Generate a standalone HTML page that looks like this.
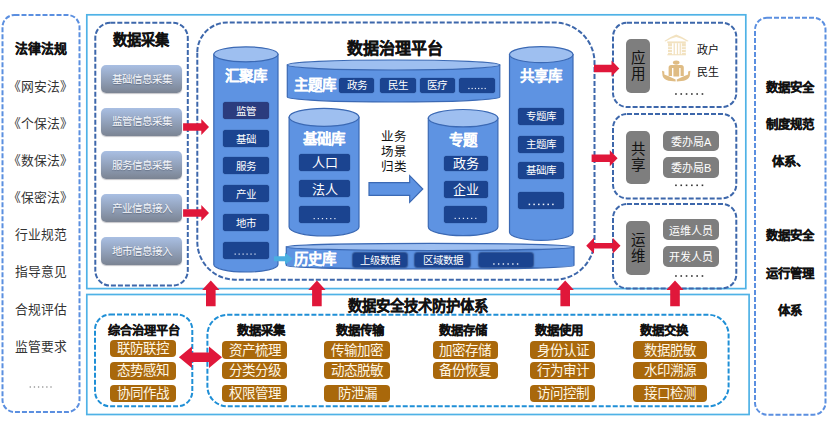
<!DOCTYPE html>
<html lang="zh-CN"><head><meta charset="utf-8">
<style>
html,body{margin:0;padding:0;background:#fff;}
body{width:830px;height:423px;position:relative;overflow:hidden;font-family:"Liberation Sans",sans-serif;}
svg{position:absolute;left:0;top:0;}
.t{position:absolute;white-space:nowrap;line-height:1;text-align:center;}
.gb{position:absolute;border-radius:5px;background:linear-gradient(#a9bfe3,#7b8493);color:#f6f8fc;font-size:10.5px;display:flex;align-items:center;justify-content:center;text-shadow:0 0.5px 1px rgba(70,80,100,.55);box-sizing:border-box;padding-bottom:1.5px;box-shadow:0 1px 1px rgba(90,90,100,.35);}
.nb{position:absolute;border-radius:3px;background:#1b4490;color:#fff;font-size:10.5px;display:flex;align-items:center;justify-content:center;box-shadow:0 0 1px #0f2a60;box-sizing:border-box;padding-bottom:1px;}
.ob{position:absolute;border-radius:4px;background:#a9680b;color:#fff7e6;font-size:13.5px;display:flex;align-items:center;justify-content:center;box-sizing:border-box;padding-bottom:3px;}
.gp{position:absolute;border-radius:5px;background:#7e7e7e;color:#111;font-size:14.5px;display:flex;flex-direction:column;align-items:center;justify-content:center;line-height:16px;}
.gs{position:absolute;border-radius:5px;background:#7e7e7e;color:#fff;font-size:11px;display:flex;align-items:center;justify-content:center;}
</style></head><body>
<svg width="830" height="423" viewBox="0 0 830 423">
<rect x="2.5" y="15" width="77" height="397" rx="12" fill="none" stroke="#5b8fe0" stroke-width="2" stroke-dasharray="5 2"/>
<rect x="755" y="17.7" width="70.5" height="397" rx="12" fill="none" stroke="#5b8fe0" stroke-width="2" stroke-dasharray="5 2"/>
<rect x="86.8" y="14.8" width="659" height="273.8" fill="none" stroke="#4fb2e6" stroke-width="1.7"/>
<rect x="86.8" y="294.5" width="662.3" height="120" fill="none" stroke="#4fb2e6" stroke-width="1.7"/>
<rect x="95.3" y="22.8" width="92.5" height="262.8" rx="15" fill="none" stroke="#3d67ab" stroke-width="2" stroke-dasharray="5 2"/>
<path d="M197.3 52 A30 30 0 0 1 227.3 22.5 L554 22.5 A40.5 40 0 0 1 594.5 62.5 L594.5 239.7 A40 40 0 0 1 554.5 279.7 L235 279.7 A38 38 0 0 1 197.3 241.7 Z" fill="none" stroke="#3d67ab" stroke-width="2" stroke-dasharray="5 2"/>
<rect x="613" y="22.7" width="123.3" height="84.3" rx="14" fill="none" stroke="#3d67ab" stroke-width="2" stroke-dasharray="5 2"/>
<rect x="613" y="114" width="123.3" height="84.4" rx="14" fill="none" stroke="#3d67ab" stroke-width="2" stroke-dasharray="5 2"/>
<rect x="613" y="204" width="123.3" height="84.4" rx="14" fill="none" stroke="#3d67ab" stroke-width="2" stroke-dasharray="5 2"/>
<rect x="95" y="314.6" width="97.3" height="91.7" rx="15" fill="none" stroke="#1f8fd6" stroke-width="2" stroke-dasharray="5 2"/>
<rect x="207.4" y="314.8" width="521.2" height="91.5" rx="20" fill="none" stroke="#1f8fd6" stroke-width="2" stroke-dasharray="5 2"/>
<path d="M213.8 54.3 L213.8 264.5 A32.099999999999994 7.5 0 0 0 278 264.5 L278 54.3 Z" fill="#5e93e2" stroke="#3b69b4" stroke-width="1.2"/>
<ellipse cx="245.9" cy="54.3" rx="32.099999999999994" ry="7.5" fill="#9ebff0" stroke="#3b69b4" stroke-width="1.2"/>
<path d="M287.3 65 L287.3 97 A106.25 5 0 0 0 499.8 97 L499.8 65 Z" fill="#5e93e2" stroke="#3b69b4" stroke-width="1.2"/>
<ellipse cx="393.55" cy="65" rx="106.25" ry="5" fill="#9ebff0" stroke="#3b69b4" stroke-width="1.2"/>
<path d="M289.1 117.3 L289.1 227 A34.94999999999999 9 0 0 0 359 227 L359 117.3 Z" fill="#5e93e2" stroke="#3b69b4" stroke-width="1.2"/>
<ellipse cx="324.05" cy="117.3" rx="34.94999999999999" ry="9" fill="#9ebff0" stroke="#3b69b4" stroke-width="1.2"/>
<path d="M428.3 118.2 L428.3 227.0 A34.79999999999998 8.7 0 0 0 497.9 227.0 L497.9 118.2 Z" fill="#5e93e2" stroke="#3b69b4" stroke-width="1.2"/>
<ellipse cx="463.1" cy="118.2" rx="34.79999999999998" ry="8.7" fill="#9ebff0" stroke="#3b69b4" stroke-width="1.2"/>
<path d="M509.5 54.6 L509.5 232.3 A31.75 8 0 0 0 573 232.3 L573 54.6 Z" fill="#5e93e2" stroke="#3b69b4" stroke-width="1.2"/>
<ellipse cx="541.25" cy="54.6" rx="31.75" ry="8" fill="#9ebff0" stroke="#3b69b4" stroke-width="1.2"/>
<path d="M286.3 246.9 L286.3 265.4 A143.85 3.6 0 0 0 574 265.4 L574 246.9 Z" fill="#5e93e2" stroke="#3b69b4" stroke-width="1.2"/>
<ellipse cx="430.15" cy="246.9" rx="143.85" ry="3.6" fill="#9ebff0" stroke="#3b69b4" stroke-width="1.2"/>
<path d="M369 182.7 L409.7 182.7 L409.7 175.6 L422.8 189 L409.7 202.4 L409.7 195.3 L369 195.3 Z" fill="#5e93e2" stroke="#3b69b4" stroke-width="1.2"/>
<path d="M274 256.3 L285 256.3 L285 252.8 L292.8 258.8 L285 264.8 L285 261.3 L274 261.3 Z" fill="#4aaee0"/>
<path d="M183.1 123.25 L201.3 123.25 L201.3 119.1 L209 127 L201.3 134.9 L201.3 130.75 L183.1 130.75 Z" fill="#e0173a"/>
<path d="M183.1 209.25 L201.3 209.25 L201.3 205.1 L209 213 L201.3 220.9 L201.3 216.75 L183.1 216.75 Z" fill="#e0173a"/>
<path d="M594 64.8 L611.5 64.8 L611.5 60.5 L619.3 68.5 L611.5 76.5 L611.5 72.2 L594 72.2 Z" fill="#e0173a"/>
<path d="M591.6 154.5 L609.8 154.5 L609.8 150.2 L617.6 158.2 L609.8 166.2 L609.8 161.89999999999998 L591.6 161.89999999999998 Z" fill="#e0173a"/>
<path d="M586.2 245.8 L594.0 237.8 L594.0 243.0 L612.7 243.0 L612.7 237.8 L620.5 245.8 L612.7 253.8 L612.7 248.60000000000002 L594.0 248.60000000000002 L594.0 253.8 Z" fill="#e0173a"/>
<path d="M178.9 357.2 L191.9 346.4 L191.9 352.5 L209 352.5 L209 346.4 L222 357.2 L209 368.0 L209 361.9 L191.9 361.9 L191.9 368.0 Z" fill="#e0173a"/>
<path d="M210.8 280.6 L219.5 290 L215.60000000000002 290 L215.60000000000002 306.3 L206.0 306.3 L206.0 290 L202.10000000000002 290 Z" fill="#e0173a"/>
<path d="M316.9 280.6 L325.59999999999997 290 L321.7 290 L321.7 306.3 L312.09999999999997 306.3 L312.09999999999997 290 L308.2 290 Z" fill="#e0173a"/>
<path d="M565.2 280.6 L573.9000000000001 290 L570.0 290 L570.0 306.3 L560.4000000000001 306.3 L560.4000000000001 290 L556.5 290 Z" fill="#e0173a"/>
<path d="M675 280.6 L683.7 290 L679.8 290 L679.8 306.3 L670.2 306.3 L670.2 290 L666.3 290 Z" fill="#e0173a"/>
<g fill="#f2e2c0">
<path d="M664.3 41 Q670 36.6 676.2 34.4 Q682.4 36.6 688.8 41 L687 41.6 Q682 38.4 676.2 37 Q670.4 38.4 665.5 41.6 Z"/>
<rect x="667.3" y="41.4" width="18.5" height="1.8"/>
<rect x="668" y="43.2" width="4" height="11.8"/>
<rect x="681.8" y="43.2" width="4" height="11.8"/>
<rect x="673.6" y="43.2" width="1.3" height="11.8"/>
<rect x="676.8" y="43.2" width="1.3" height="11.8"/>
<rect x="679.6" y="43.2" width="1.3" height="11.8"/>
<rect x="667.3" y="54.2" width="18.5" height="1.1"/>
</g>
<g fill="#fff"><rect x="668" y="46.4" width="4" height="0.8"/><rect x="668" y="49.2" width="4" height="0.8"/><rect x="668" y="52" width="4" height="0.8"/>
<rect x="681.8" y="46.4" width="4" height="0.8"/><rect x="681.8" y="49.2" width="4" height="0.8"/><rect x="681.8" y="52" width="4" height="0.8"/></g>
<g fill="#dfbc84">
<ellipse cx="676.2" cy="62.6" rx="3.3" ry="2.1"/>
<path d="M668.6 76 L668.6 67.5 Q668.6 65 671.2 65 L681.2 65 Q683.8 65 683.8 67.5 L683.8 76 L680.6 76 L680.6 68 L679.2 68 L679.2 76.4 L673.4 76.4 L673.4 68 L672 68 L672 76 Z"/>
<path d="M662 70.8 L664.3 71.6 L664.3 74.5 L669.3 76.4 L675.6 79.6 L675.6 81.4 L668.5 80.8 Q664 79.6 662.6 76 Z"/>
<path d="M690.4 70.8 L688.1 71.6 L688.1 74.5 L683.1 76.4 L676.8 79.6 L676.8 81.4 L683.9 80.8 Q688.4 79.6 689.8 76 Z"/>
</g>
</svg>
<div class="t" style="left:2.10px;width:77px;top:43px;font-size:12.9px;color:#111;font-weight:bold;-webkit-text-stroke:0.25px #111;">法律法规</div>
<div class="t" style="left:2.10px;width:77px;top:81px;font-size:12.8px;color:#333;">《网安法》</div>
<div class="t" style="left:2.10px;width:77px;top:118px;font-size:12.8px;color:#333;">《个保法》</div>
<div class="t" style="left:2.10px;width:77px;top:155px;font-size:12.8px;color:#333;">《数保法》</div>
<div class="t" style="left:2.10px;width:77px;top:192px;font-size:12.8px;color:#333;">《保密法》</div>
<div class="t" style="left:2.10px;width:77px;top:229px;font-size:12.8px;color:#333;">行业规范</div>
<div class="t" style="left:2.10px;width:77px;top:266px;font-size:12.8px;color:#333;">指导意见</div>
<div class="t" style="left:2.10px;width:77px;top:304px;font-size:12.8px;color:#333;">合规评估</div>
<div class="t" style="left:2.10px;width:77px;top:341px;font-size:12.8px;color:#333;">监管要求</div>
<div class="t" style="left:755.00px;width:70px;top:82px;font-size:12.4px;color:#111;font-weight:bold;-webkit-text-stroke:0.25px #111;">数据安全</div>
<div class="t" style="left:755.00px;width:70px;top:119px;font-size:12.4px;color:#111;font-weight:bold;-webkit-text-stroke:0.25px #111;">制度规范</div>
<div class="t" style="left:755.00px;width:70px;top:156px;font-size:12.4px;color:#111;font-weight:bold;-webkit-text-stroke:0.25px #111;">体系、</div>
<div class="t" style="left:755.00px;width:70px;top:230px;font-size:12.4px;color:#111;font-weight:bold;-webkit-text-stroke:0.25px #111;">数据安全</div>
<div class="t" style="left:755.00px;width:70px;top:268px;font-size:12.4px;color:#111;font-weight:bold;-webkit-text-stroke:0.25px #111;">运行管理</div>
<div class="t" style="left:755.00px;width:70px;top:305px;font-size:12.4px;color:#111;font-weight:bold;-webkit-text-stroke:0.25px #111;">体系</div>
<div class="t" style="left:94.80px;width:93px;top:33px;font-size:14.3px;color:#111;font-weight:bold;-webkit-text-stroke:0.25px #111;">数据采集</div>
<div class="t" style="left:340.30px;width:110px;top:41px;font-size:16px;color:#111;font-weight:bold;-webkit-text-stroke:0.25px #111;">数据治理平台</div>
<div class="t" style="left:327.90px;width:180px;top:298.8px;font-size:14.4px;color:#111;font-weight:bold;-webkit-text-stroke:0.25px #111;">数据安全技术防护体系</div>
<div class="t" style="left:95.30px;width:97px;top:324.5px;font-size:12.2px;color:#111;font-weight:bold;-webkit-text-stroke:0.25px #111;">综合治理平台</div>
<div class="t" style="left:220.50px;width:80px;top:324.5px;font-size:12.4px;color:#111;font-weight:bold;-webkit-text-stroke:0.25px #111;">数据采集</div>
<div class="t" style="left:319.70px;width:80px;top:324.5px;font-size:12.4px;color:#111;font-weight:bold;-webkit-text-stroke:0.25px #111;">数据传输</div>
<div class="t" style="left:423.40px;width:80px;top:324.5px;font-size:12.4px;color:#111;font-weight:bold;-webkit-text-stroke:0.25px #111;">数据存储</div>
<div class="t" style="left:519.10px;width:80px;top:324.5px;font-size:12.4px;color:#111;font-weight:bold;-webkit-text-stroke:0.25px #111;">数据使用</div>
<div class="t" style="left:623.60px;width:80px;top:324.5px;font-size:12.4px;color:#111;font-weight:bold;-webkit-text-stroke:0.25px #111;">数据交换</div>
<div class="gb" style="left:101px;top:64.6px;width:81.00px;height:28.40px;">基础信息采集</div>
<div class="gb" style="left:101px;top:107.5px;width:81.00px;height:28.40px;">监管信息采集</div>
<div class="gb" style="left:101px;top:150.7px;width:81.00px;height:28.40px;">服务信息采集</div>
<div class="gb" style="left:101px;top:193.7px;width:81.00px;height:28.40px;">产业信息接入</div>
<div class="gb" style="left:101px;top:236.8px;width:81.00px;height:28.40px;">地市信息接入</div>
<div class="t" style="left:211.00px;width:70px;top:68.5px;font-size:14.5px;color:#fff;font-weight:bold;-webkit-text-stroke:0.1px #fff;">汇聚库</div>
<div class="t" style="left:279.90px;width:70px;top:77.5px;font-size:14.5px;color:#fff;font-weight:bold;-webkit-text-stroke:0.1px #fff;">主题库</div>
<div class="t" style="left:289.00px;width:70px;top:131.5px;font-size:14.5px;color:#fff;font-weight:bold;-webkit-text-stroke:0.1px #fff;">基础库</div>
<div class="t" style="left:427.90px;width:70px;top:132.5px;font-size:14.5px;color:#fff;font-weight:bold;-webkit-text-stroke:0.1px #fff;">专题</div>
<div class="t" style="left:506.40px;width:70px;top:68.5px;font-size:14.5px;color:#fff;font-weight:bold;-webkit-text-stroke:0.1px #fff;">共享库</div>
<div class="t" style="left:279.80px;width:70px;top:252.0px;font-size:14.5px;color:#fff;font-weight:bold;-webkit-text-stroke:0.1px #fff;">历史库</div>
<div class="nb" style="left:222.5px;top:102px;width:46.50px;height:17.00px;background:#2b3c7e">监管</div>
<div class="nb" style="left:222.5px;top:130.3px;width:46.50px;height:16.70px;">基础</div>
<div class="nb" style="left:222.5px;top:157px;width:46.50px;height:17.00px;">服务</div>
<div class="nb" style="left:222.5px;top:185.3px;width:46.50px;height:17.00px;">产业</div>
<div class="nb" style="left:222.5px;top:214.2px;width:46.50px;height:16.80px;">地市</div>
<div class="nb" style="left:222.5px;top:241.5px;width:46.70px;height:17.30px;"></div>
<div class="nb" style="left:339.2px;top:78.2px;width:35.20px;height:14.60px;font-size:10.5px">政务</div>
<div class="nb" style="left:380.4px;top:78.2px;width:35.40px;height:14.60px;font-size:10.5px">民生</div>
<div class="nb" style="left:419.5px;top:78.2px;width:35.20px;height:14.60px;font-size:10.5px">医疗</div>
<div class="nb" style="left:459.4px;top:78.2px;width:35.60px;height:14.80px;"></div>
<div class="nb" style="left:299px;top:153.8px;width:51.00px;height:17.00px;font-size:13px">人口</div>
<div class="nb" style="left:299px;top:180.4px;width:51.00px;height:16.50px;font-size:13px">法人</div>
<div class="nb" style="left:299px;top:205.8px;width:51.00px;height:16.80px;"></div>
<div class="t" style="left:374px;width:40px;top:130px;font-size:12.5px;color:#111;line-height:15px">业务<br>场景<br>归类</div>
<div class="nb" style="left:444px;top:155.5px;width:43.50px;height:15.80px;font-size:13px">政务</div>
<div class="nb" style="left:444px;top:181px;width:43.50px;height:16.50px;font-size:13px">企业</div>
<div class="nb" style="left:444px;top:205.8px;width:43.20px;height:17.20px;"></div>
<div class="nb" style="left:518.3px;top:107.8px;width:46.00px;height:16.90px;">专题库</div>
<div class="nb" style="left:518.3px;top:135.5px;width:46.00px;height:17.50px;">主题库</div>
<div class="nb" style="left:518.3px;top:161.5px;width:46.00px;height:17.00px;">基础库</div>
<div class="nb" style="left:518.3px;top:191.5px;width:45.90px;height:17.10px;"></div>
<div class="nb" style="left:353px;top:253.2px;width:54.40px;height:13.60px;box-shadow:0 0 1.5px 0.5px #2c4f8e">上级数据</div>
<div class="nb" style="left:415.2px;top:253.2px;width:55.30px;height:13.60px;box-shadow:0 0 1.5px 0.5px #2c4f8e">区域数据</div>
<div class="nb" style="left:478.5px;top:252.8px;width:54.90px;height:14.00px;box-shadow:0 0 1.5px 0.5px #2c4f8e"></div>
<div class="gp" style="left:626.4px;top:39.4px;width:23.60px;height:53.90px;">应<br>用</div>
<div class="gp" style="left:626.4px;top:130.5px;width:23.60px;height:53.70px;">共<br>享</div>
<div class="gp" style="left:626.4px;top:221px;width:23.60px;height:54.00px;">运<br>维</div>
<div class="t" style="left:690.00px;width:36px;top:44.5px;font-size:11px;color:#111;">政户</div>
<div class="t" style="left:690.00px;width:36px;top:66.5px;font-size:11px;color:#111;">民生</div>
<div class="gs" style="left:663px;top:130.5px;width:56.20px;height:20.50px;">委办局A</div>
<div class="gs" style="left:663px;top:157px;width:56.20px;height:20.80px;">委办局B</div>
<div class="gs" style="left:663px;top:219px;width:56.20px;height:21.00px;">运维人员</div>
<div class="gs" style="left:663px;top:245.8px;width:56.20px;height:20.80px;">开发人员</div>
<div class="ob" style="left:110.4px;top:339.8px;width:66.00px;height:17.40px;">联防联控</div>
<div class="ob" style="left:110.4px;top:362px;width:66.00px;height:17.50px;">态势感知</div>
<div class="ob" style="left:110.4px;top:384.5px;width:66.00px;height:17.30px;">协同作战</div>
<div class="ob" style="left:221.7px;top:341.2px;width:65.80px;height:17.80px;">资产梳理</div>
<div class="ob" style="left:221.7px;top:362.4px;width:65.80px;height:17.00px;">分类分级</div>
<div class="ob" style="left:221.7px;top:384.6px;width:65.80px;height:17.50px;">权限管理</div>
<div class="ob" style="left:324px;top:341.2px;width:66.30px;height:17.80px;">传输加密</div>
<div class="ob" style="left:324px;top:362.4px;width:66.30px;height:17.00px;">动态脱敏</div>
<div class="ob" style="left:324px;top:384.6px;width:66.30px;height:17.50px;">防泄漏</div>
<div class="ob" style="left:432.5px;top:341.2px;width:65.50px;height:17.80px;">加密存储</div>
<div class="ob" style="left:432.5px;top:362.4px;width:65.50px;height:17.00px;">备份恢复</div>
<div class="ob" style="left:529.8px;top:341.2px;width:65.70px;height:17.80px;">身份认证</div>
<div class="ob" style="left:529.8px;top:362.4px;width:65.70px;height:17.00px;">行为审计</div>
<div class="ob" style="left:529.8px;top:384.6px;width:65.70px;height:17.50px;">访问控制</div>
<div class="ob" style="left:632.8px;top:341.2px;width:73.90px;height:17.80px;">数据脱敏</div>
<div class="ob" style="left:632.8px;top:362.4px;width:73.90px;height:17.00px;">水印溯源</div>
<div class="ob" style="left:632.8px;top:384.6px;width:73.90px;height:17.50px;">接口检测</div>
<svg width="830" height="423" style="z-index:5">
<rect x="234.60" y="253.50" width="1.2" height="1.2" fill="#e8eefa"/>
<rect x="238.56" y="253.50" width="1.2" height="1.2" fill="#e8eefa"/>
<rect x="242.52" y="253.50" width="1.2" height="1.2" fill="#e8eefa"/>
<rect x="246.48" y="253.50" width="1.2" height="1.2" fill="#e8eefa"/>
<rect x="250.44" y="253.50" width="1.2" height="1.2" fill="#e8eefa"/>
<rect x="254.40" y="253.50" width="1.2" height="1.2" fill="#e8eefa"/>
<rect x="313.60" y="218.00" width="1.2" height="1.2" fill="#e8eefa"/>
<rect x="317.74" y="218.00" width="1.2" height="1.2" fill="#e8eefa"/>
<rect x="321.88" y="218.00" width="1.2" height="1.2" fill="#e8eefa"/>
<rect x="326.02" y="218.00" width="1.2" height="1.2" fill="#e8eefa"/>
<rect x="330.16" y="218.00" width="1.2" height="1.2" fill="#e8eefa"/>
<rect x="334.30" y="218.00" width="1.2" height="1.2" fill="#e8eefa"/>
<rect x="468.30" y="87.90" width="1.2" height="1.2" fill="#e8eefa"/>
<rect x="471.56" y="87.90" width="1.2" height="1.2" fill="#e8eefa"/>
<rect x="474.82" y="87.90" width="1.2" height="1.2" fill="#e8eefa"/>
<rect x="478.08" y="87.90" width="1.2" height="1.2" fill="#e8eefa"/>
<rect x="481.34" y="87.90" width="1.2" height="1.2" fill="#e8eefa"/>
<rect x="484.60" y="87.90" width="1.2" height="1.2" fill="#e8eefa"/>
<rect x="454.60" y="217.80" width="1.2" height="1.2" fill="#e8eefa"/>
<rect x="458.72" y="217.80" width="1.2" height="1.2" fill="#e8eefa"/>
<rect x="462.84" y="217.80" width="1.2" height="1.2" fill="#e8eefa"/>
<rect x="466.96" y="217.80" width="1.2" height="1.2" fill="#e8eefa"/>
<rect x="471.08" y="217.80" width="1.2" height="1.2" fill="#e8eefa"/>
<rect x="475.20" y="217.80" width="1.2" height="1.2" fill="#e8eefa"/>
<rect x="528.65" y="203.65" width="1.5" height="1.5" fill="#f4f6fb"/>
<rect x="533.35" y="203.65" width="1.5" height="1.5" fill="#f4f6fb"/>
<rect x="538.05" y="203.65" width="1.5" height="1.5" fill="#f4f6fb"/>
<rect x="542.75" y="203.65" width="1.5" height="1.5" fill="#f4f6fb"/>
<rect x="547.45" y="203.65" width="1.5" height="1.5" fill="#f4f6fb"/>
<rect x="552.15" y="203.65" width="1.5" height="1.5" fill="#f4f6fb"/>
<rect x="493.20" y="263.30" width="1.4" height="1.4" fill="#f4f6fb"/>
<rect x="497.94" y="263.30" width="1.4" height="1.4" fill="#f4f6fb"/>
<rect x="502.68" y="263.30" width="1.4" height="1.4" fill="#f4f6fb"/>
<rect x="507.42" y="263.30" width="1.4" height="1.4" fill="#f4f6fb"/>
<rect x="512.16" y="263.30" width="1.4" height="1.4" fill="#f4f6fb"/>
<rect x="516.90" y="263.30" width="1.4" height="1.4" fill="#f4f6fb"/>
<rect x="675.15" y="93.20" width="1.6" height="1.6" fill="#333"/>
<rect x="680.45" y="93.20" width="1.6" height="1.6" fill="#333"/>
<rect x="685.75" y="93.20" width="1.6" height="1.6" fill="#333"/>
<rect x="691.05" y="93.20" width="1.6" height="1.6" fill="#333"/>
<rect x="696.35" y="93.20" width="1.6" height="1.6" fill="#333"/>
<rect x="701.65" y="93.20" width="1.6" height="1.6" fill="#333"/>
<rect x="675.15" y="184.50" width="1.6" height="1.6" fill="#333"/>
<rect x="680.45" y="184.50" width="1.6" height="1.6" fill="#333"/>
<rect x="685.75" y="184.50" width="1.6" height="1.6" fill="#333"/>
<rect x="691.05" y="184.50" width="1.6" height="1.6" fill="#333"/>
<rect x="696.35" y="184.50" width="1.6" height="1.6" fill="#333"/>
<rect x="701.65" y="184.50" width="1.6" height="1.6" fill="#333"/>
<rect x="675.15" y="275.20" width="1.6" height="1.6" fill="#333"/>
<rect x="680.45" y="275.20" width="1.6" height="1.6" fill="#333"/>
<rect x="685.75" y="275.20" width="1.6" height="1.6" fill="#333"/>
<rect x="691.05" y="275.20" width="1.6" height="1.6" fill="#333"/>
<rect x="696.35" y="275.20" width="1.6" height="1.6" fill="#333"/>
<rect x="701.65" y="275.20" width="1.6" height="1.6" fill="#333"/>
<rect x="29.65" y="386.35" width="1.3" height="1.3" fill="#8a8a8a"/>
<rect x="33.79" y="386.35" width="1.3" height="1.3" fill="#8a8a8a"/>
<rect x="37.93" y="386.35" width="1.3" height="1.3" fill="#8a8a8a"/>
<rect x="42.07" y="386.35" width="1.3" height="1.3" fill="#8a8a8a"/>
<rect x="46.21" y="386.35" width="1.3" height="1.3" fill="#8a8a8a"/>
<rect x="50.35" y="386.35" width="1.3" height="1.3" fill="#8a8a8a"/>
</svg>
</body></html>
